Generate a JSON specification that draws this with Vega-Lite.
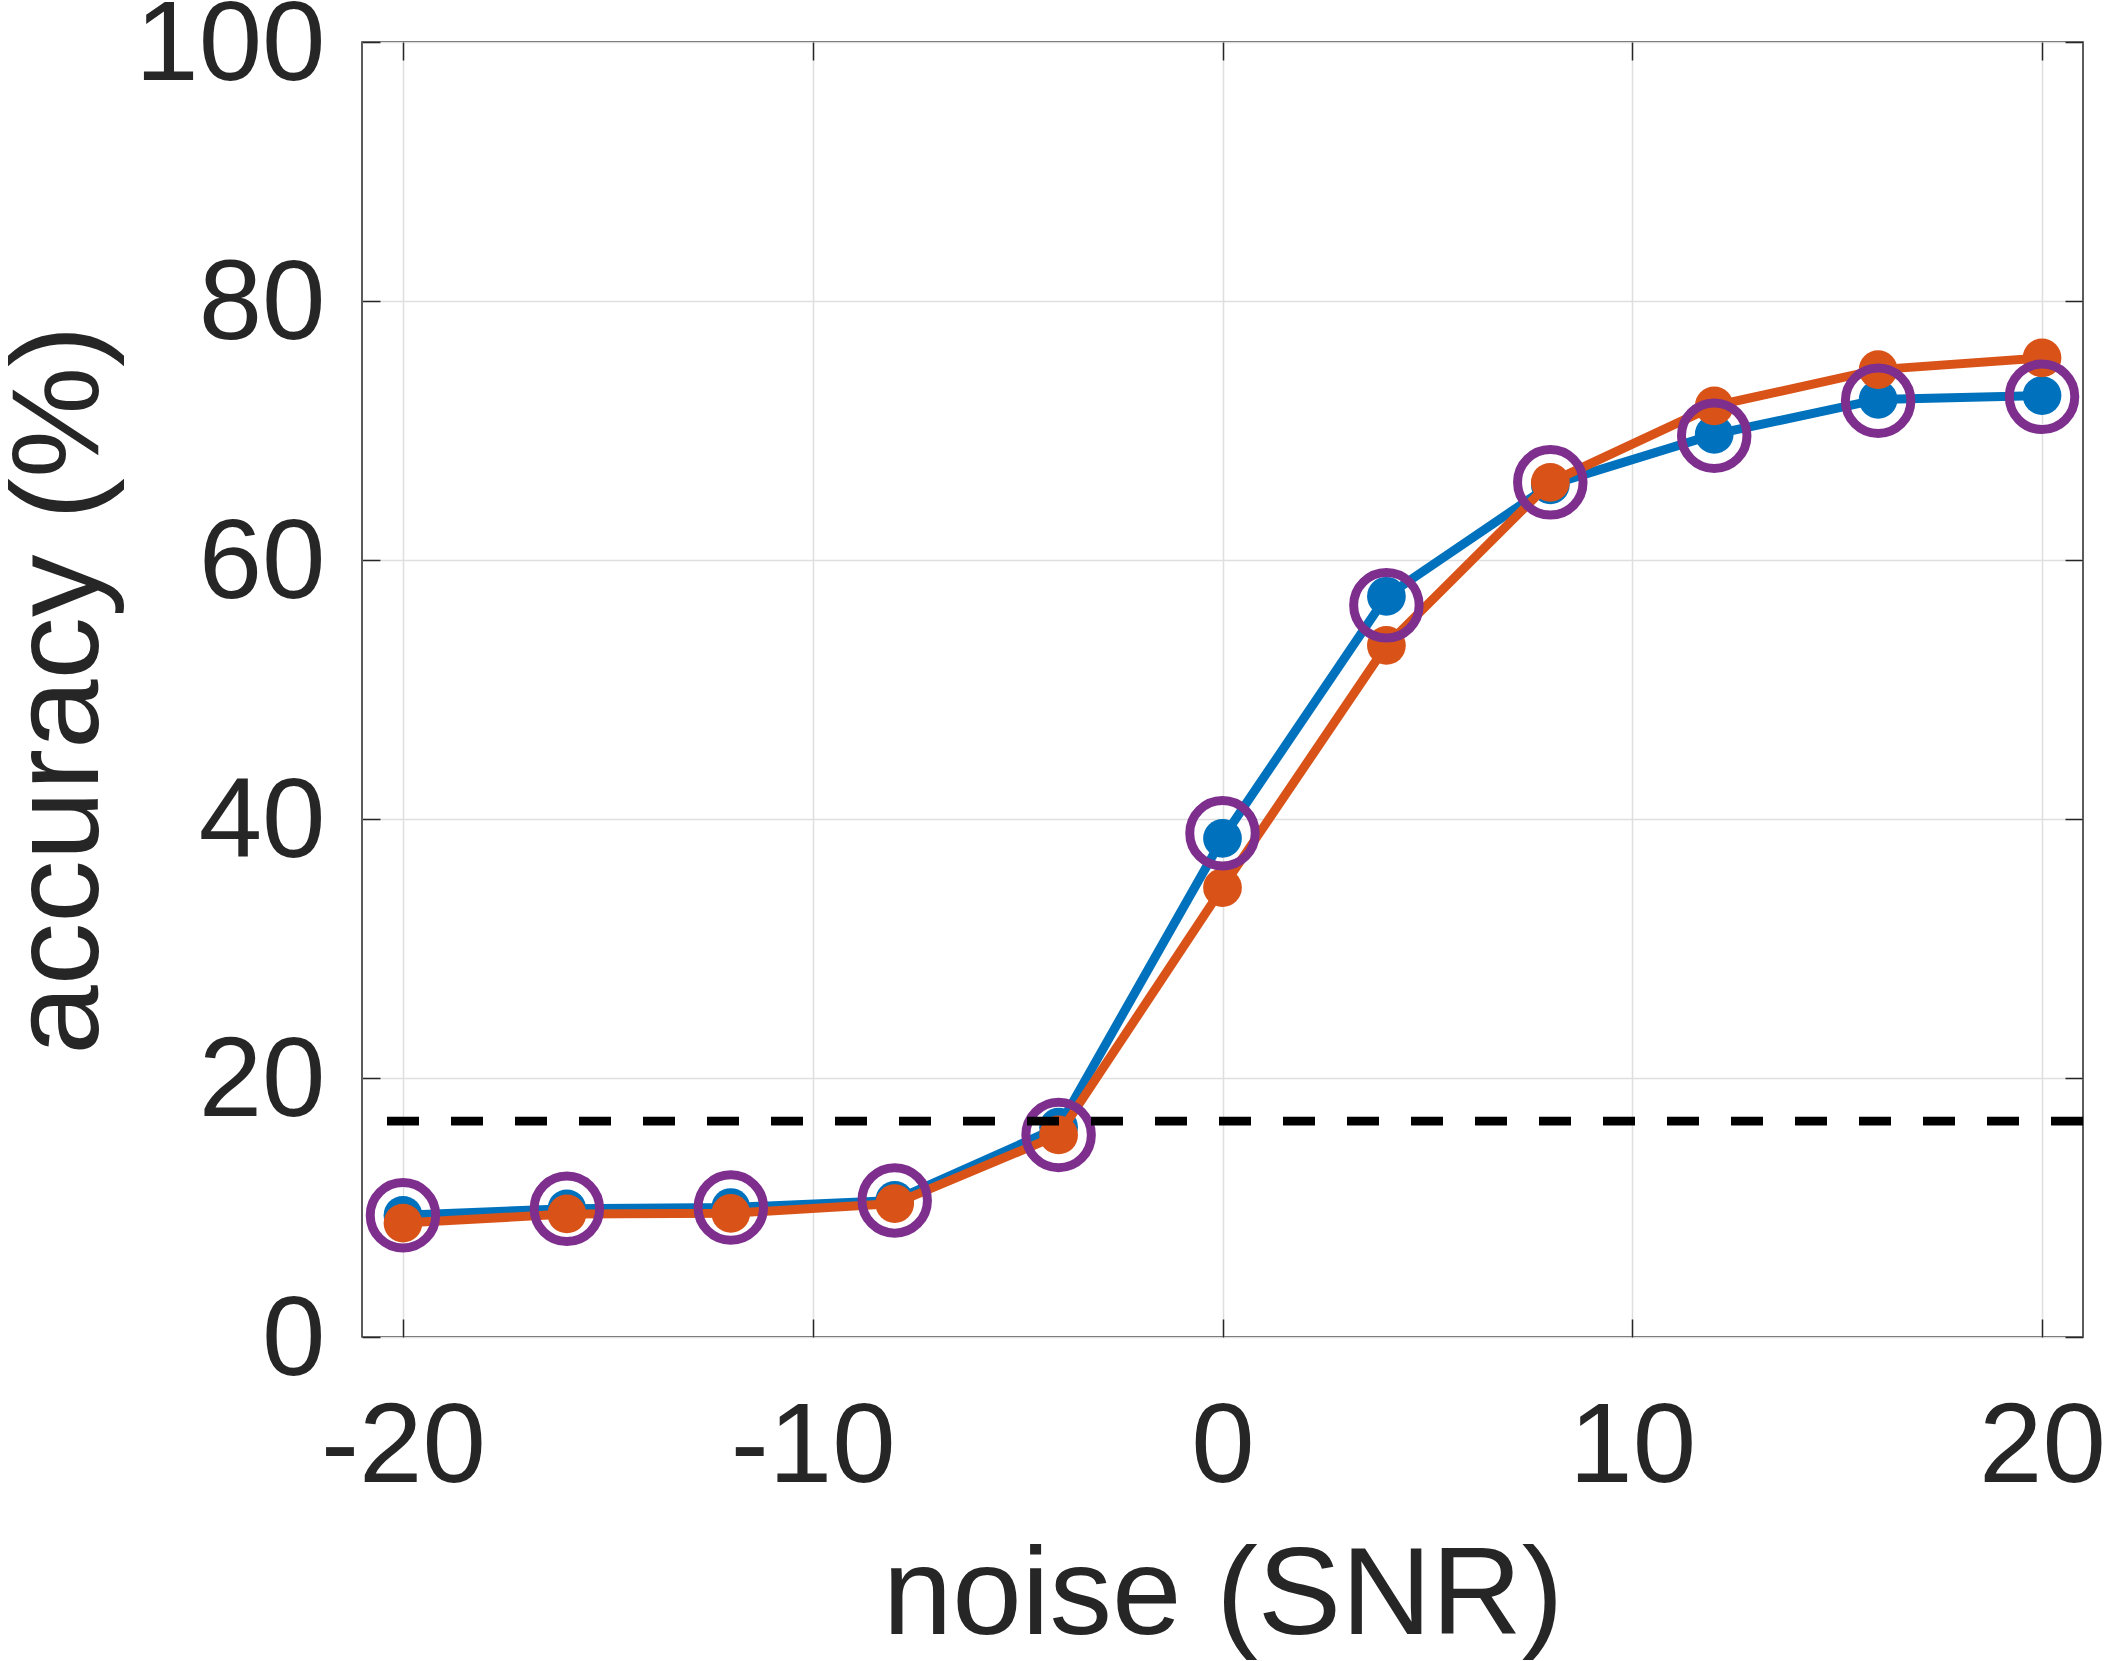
{
  "$schema": "https://vega.github.io/schema/vega-lite/v6.json",
  "autosize": "none",
  "width": 1721,
  "height": 1295,
  "padding": {"left": 362, "top": 42, "right": 22, "bottom": 324},
  "background": "white",
  "datasets": {
    "acc": [
      {"snr": -20, "model": "model 1", "acc": 9.4},
      {"snr": -16, "model": "model 1", "acc": 9.9},
      {"snr": -12, "model": "model 1", "acc": 10.0},
      {"snr": -8, "model": "model 1", "acc": 10.55},
      {"snr": -4, "model": "model 1", "acc": 16.2},
      {"snr": 0, "model": "model 1", "acc": 38.5},
      {"snr": 4, "model": "model 1", "acc": 57.2},
      {"snr": 8, "model": "model 1", "acc": 65.8},
      {"snr": 12, "model": "model 1", "acc": 69.7},
      {"snr": 16, "model": "model 1", "acc": 72.4},
      {"snr": 20, "model": "model 1", "acc": 72.7},
      {"snr": -20, "model": "model 2", "acc": 8.8},
      {"snr": -16, "model": "model 2", "acc": 9.5},
      {"snr": -12, "model": "model 2", "acc": 9.55},
      {"snr": -8, "model": "model 2", "acc": 10.3},
      {"snr": -4, "model": "model 2", "acc": 15.6},
      {"snr": 0, "model": "model 2", "acc": 34.7},
      {"snr": 4, "model": "model 2", "acc": 53.4},
      {"snr": 8, "model": "model 2", "acc": 66.0},
      {"snr": 12, "model": "model 2", "acc": 71.9},
      {"snr": 16, "model": "model 2", "acc": 74.7},
      {"snr": 20, "model": "model 2", "acc": 75.6}
    ],
    "sig": [
      {"snr": -20, "acc": 9.4},
      {"snr": -16, "acc": 9.9},
      {"snr": -12, "acc": 10.0},
      {"snr": -8, "acc": 10.55},
      {"snr": -4, "acc": 15.6},
      {"snr": 0, "acc": 38.9},
      {"snr": 4, "acc": 56.5},
      {"snr": 8, "acc": 66.0},
      {"snr": 12, "acc": 69.6},
      {"snr": 16, "acc": 72.3},
      {"snr": 20, "acc": 72.6}
    ],
    "chance": [{"acc": 16.67}]
  },
  "layer": [
    {
      "data": {"name": "acc"},
      "transform": [{"filter": "datum.model === 'model 1'"}],
      "mark": {"type": "line", "color": "#0072BD", "strokeWidth": 9},
      "encoding": {
        "x": {
          "field": "snr", "type": "quantitative",
          "scale": {"domain": [-21, 21], "nice": false, "zero": false},
          "axis": {
            "orient": "bottom",
            "values": [-20, -10, 0, 10, 20],
            "labelExpr": "datum.value + ''",
            "grid": true, "gridColor": "#dfdfdf", "gridWidth": 1.5,
            "domain": false,
            "tickSize": -18, "tickColor": "#262626", "tickWidth": 1.5,
            "labelFont": "Liberation Sans", "labelFontSize": 114, "labelColor": "#262626",
            "labelPadding": 162, "labelBaseline": "alphabetic", "labelLimit": 0,
            "labelFlush": false, "labelOverlap": false,
            "title": "noise (SNR)",
            "titleFont": "Liberation Sans", "titleFontSize": 125, "titleFontWeight": "normal",
            "titleColor": "#262626", "titleX": 860.5, "titleY": 296, "titleLimit": 0,
            "titleBaseline": "alphabetic", "titleAlign": "center"
          }
        },
        "y": {
          "field": "acc", "type": "quantitative",
          "scale": {"domain": [0, 100], "nice": false},
          "axis": {
            "orient": "left",
            "values": [0, 20, 40, 60, 80, 100],
            "grid": true, "gridColor": "#dfdfdf", "gridWidth": 1.5,
            "domain": false,
            "tickSize": -18, "tickColor": "#262626", "tickWidth": 1.5,
            "labelFont": "Liberation Sans", "labelFontSize": 114, "labelColor": "#262626",
            "labelPadding": 55, "labelBaseline": "middle", "labelAlign": "right", "labelLimit": 0,
            "labelOffset": 3,
            "labelFlush": false, "labelOverlap": false,
            "title": "accuracy (%)",
            "titleFont": "Liberation Sans", "titleFontSize": 125, "titleFontWeight": "normal",
            "titleColor": "#262626", "titleAngle": -90, "titleX": -265, "titleY": 647.5, "titleLimit": 0,
            "titleBaseline": "alphabetic", "titleAlign": "center"
          }
        }
      }
    },
    {
      "data": {"name": "acc"},
      "transform": [{"filter": "datum.model === 'model 1'"}],
      "mark": {"type": "point", "shape": "circle", "filled": true, "color": "#0072BD", "opacity": 1, "size": 1500},
      "encoding": {
        "x": {"field": "snr", "type": "quantitative", "scale": {"domain": [-21, 21], "nice": false, "zero": false}, "axis": null},
        "y": {"field": "acc", "type": "quantitative", "scale": {"domain": [0, 100], "nice": false}, "axis": null}
      }
    },
    {
      "data": {"name": "acc"},
      "transform": [{"filter": "datum.model === 'model 2'"}],
      "mark": {"type": "line", "color": "#D95319", "strokeWidth": 9},
      "encoding": {
        "x": {"field": "snr", "type": "quantitative", "scale": {"domain": [-21, 21], "nice": false, "zero": false}, "axis": null},
        "y": {"field": "acc", "type": "quantitative", "scale": {"domain": [0, 100], "nice": false}, "axis": null}
      }
    },
    {
      "data": {"name": "acc"},
      "transform": [{"filter": "datum.model === 'model 2'"}],
      "mark": {"type": "point", "shape": "circle", "filled": true, "color": "#D95319", "opacity": 1, "size": 1500},
      "encoding": {
        "x": {"field": "snr", "type": "quantitative", "scale": {"domain": [-21, 21], "nice": false, "zero": false}, "axis": null},
        "y": {"field": "acc", "type": "quantitative", "scale": {"domain": [0, 100], "nice": false}, "axis": null}
      }
    },
    {
      "data": {"name": "sig"},
      "mark": {"type": "point", "shape": "circle", "filled": false, "color": "#7E2F8E", "opacity": 1, "size": 4290, "strokeWidth": 9},
      "encoding": {
        "x": {
          "field": "snr", "type": "quantitative",
          "scale": {"domain": [-21, 21], "nice": false, "zero": false},
          "axis": {
            "orient": "top", "values": [-20, -10, 0, 10, 20],
            "grid": false, "domain": false, "labels": false,
            "tickSize": -18, "tickColor": "#262626", "tickWidth": 1.5, "title": null
          }
        },
        "y": {
          "field": "acc", "type": "quantitative",
          "scale": {"domain": [0, 100], "nice": false},
          "axis": {
            "orient": "right", "values": [0, 20, 40, 60, 80, 100],
            "grid": false, "domain": false, "labels": false,
            "tickSize": -18, "tickColor": "#262626", "tickWidth": 1.5, "title": null
          }
        }
      }
    },
    {
      "data": {"name": "chance"},
      "mark": {"type": "rule", "color": "black", "strokeWidth": 8.7, "strokeDash": [32, 32]},
      "encoding": {
        "y": {"field": "acc", "type": "quantitative", "scale": {"domain": [0, 100], "nice": false}, "axis": null}
      }
    }
  ],
  "resolve": {"axis": {"x": "independent", "y": "independent"}},
  "config": {
    "view": {"stroke": "#262626", "strokeWidth": 1.5},
    "font": "Liberation Sans"
  }
}
